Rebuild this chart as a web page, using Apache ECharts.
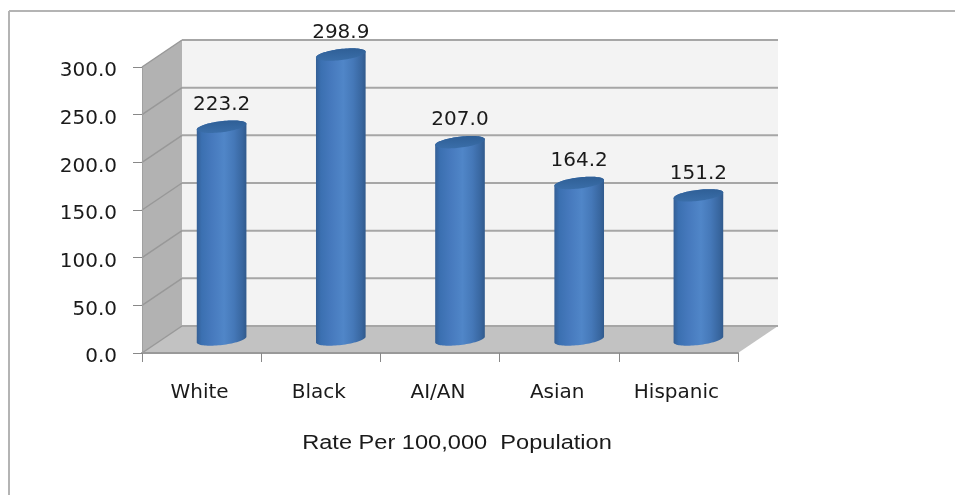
<!DOCTYPE html>
<html>
<head>
<meta charset="utf-8">
<style>html,body{margin:0;padding:0;background:#fff}#chart{width:955px;height:495px}</style>
<script src="https://cdn.jsdelivr.net/npm/echarts@6/dist/echarts.min.js"></script>
</head>
<body>
<div id="chart"></div>
<script>
// Rates per 100,000 population by group
const groups = ['White', 'Black', 'AI/AN', 'Asian', 'Hispanic'];
const rates = [223.2, 298.9, 207.0, 164.2, 151.2];
const yTicks = [0, 50, 100, 150, 200, 250, 300];
const axisTitle = 'Rate Per 100,000  Population';

// Oblique projection of the chart box: how far the back wall sits from the front plane
const DEPTH_X = 40;
const DEPTH_Y = -27;
const TEXT_FONT = '"DejaVu Sans", sans-serif';
const TEXT_COLOR = '#1a1a1a';
const RULE_COLOR = '#a6a6a6';

function renderBox(params, api) {
  const rect = params.coordSys;
  const x0 = rect.x, x1 = rect.x + rect.width;
  const y0 = api.coord([0, 0])[1];
  const yTop = api.coord([0, yTicks[yTicks.length - 1]])[1];
  const children = [
    { type: 'polygon', shape: { points: [[x0, y0], [x0 + DEPTH_X, y0 + DEPTH_Y], [x0 + DEPTH_X, yTop + DEPTH_Y], [x0, yTop]] }, style: { fill: '#b2b2b2' } },
    { type: 'polygon', shape: { points: [[x0 + DEPTH_X, y0 + DEPTH_Y], [x1 + DEPTH_X, y0 + DEPTH_Y], [x1 + DEPTH_X, yTop + DEPTH_Y], [x0 + DEPTH_X, yTop + DEPTH_Y]] }, style: { fill: '#f3f3f3' } },
    { type: 'polygon', shape: { points: [[x0, y0], [x1, y0], [x1 + DEPTH_X, y0 + DEPTH_Y], [x0 + DEPTH_X, y0 + DEPTH_Y]] }, style: { fill: '#c2c2c2' } }
  ];
  yTicks.forEach(function (t) {
    const y = api.coord([0, t])[1];
    const bx = x0 + DEPTH_X, by = y + DEPTH_Y;
    children.push({ type: 'line', shape: { x1: x0, y1: y, x2: bx, y2: by }, style: { stroke: '#989898', lineWidth: 1.5 } });
    children.push({ type: 'line', shape: { x1: bx, y1: by, x2: x1 + DEPTH_X, y2: by }, style: { stroke: RULE_COLOR, lineWidth: 2 } });
  });
  return { type: 'group', children: children };
}

// Point on a slightly tilted ellipse
function ellipsePoint(cx, cy, rx, ry, tilt, t) {
  const c = Math.cos(t), s = Math.sin(t);
  return [
    cx + rx * c * Math.cos(tilt) - ry * s * Math.sin(tilt),
    cy + rx * c * Math.sin(tilt) + ry * s * Math.cos(tilt)
  ];
}

function renderCylinder(params, api) {
  const idx = api.value(0);
  const val = api.value(1);
  const base = api.coord([idx, 0]);
  const top = api.coord([idx, val]);
  const cx = base[0] + DEPTH_X / 2;
  const yBase = base[1] + DEPTH_Y / 2;
  const yTop = top[1] + DEPTH_Y / 2;
  const rx = 25, ry = 5.5, tilt = -0.12;
  const STEPS = 40;
  const body = [];
  // upper rim, left to right across the back of the lid
  for (let i = 0; i <= STEPS; i++) {
    body.push(ellipsePoint(cx, yTop, rx, ry, tilt, Math.PI + Math.PI * i / STEPS));
  }
  // lower rim, right to left across the front of the base
  for (let i = 0; i <= STEPS; i++) {
    body.push(ellipsePoint(cx, yBase, rx, ry, tilt, Math.PI * i / STEPS));
  }
  const lid = [];
  for (let i = 0; i < STEPS * 2; i++) {
    lid.push(ellipsePoint(cx, yTop, rx, ry, tilt, Math.PI * i / STEPS));
  }
  return {
    type: 'group',
    children: [
      {
        type: 'polygon', shape: { points: body },
        style: {
          fill: {
            type: 'linear', x: 0, y: 0, x2: 1, y2: 0,
            colorStops: [
              { offset: 0, color: '#345f95' },
              { offset: 0.1, color: '#3b70b1' },
              { offset: 0.3, color: '#4679bd' },
              { offset: 0.55, color: '#5086c8' },
              { offset: 0.75, color: '#4578b8' },
              { offset: 0.92, color: '#38669f' },
              { offset: 1, color: '#315a8c' }
            ]
          }
        }
      },
      {
        type: 'polygon', shape: { points: lid },
        style: {
          fill: {
            type: 'linear', x: 0, y: 0, x2: 0, y2: 1,
            colorStops: [
              { offset: 0, color: '#2f5f96' },
              { offset: 1, color: '#3a6ea9' }
            ]
          }
        }
      },
      {
        type: 'text',
        style: {
          x: cx, y: yTop - 22,
          text: val.toFixed(1),
          fill: TEXT_COLOR, font: '20px ' + TEXT_FONT,
          align: 'center', verticalAlign: 'middle'
        }
      }
    ]
  };
}

const chart = echarts.init(document.getElementById('chart'), null, { renderer: 'canvas' });
chart.setOption({
  animation: false,
  backgroundColor: '#fff',
  grid: { left: 142, right: 217, top: 67, bottom: 142 },
  xAxis: {
    type: 'category', data: groups, z: 5,
    axisLine: { lineStyle: { color: '#999', width: 2 } },
    axisTick: { show: true, length: 9, lineStyle: { color: '#888' } },
    axisLabel: { color: TEXT_COLOR, fontFamily: '"DejaVu Sans", sans-serif', fontSize: 20, margin: 30, padding: [0, 4, 0, 0] }
  },
  yAxis: {
    type: 'value', min: 0, max: 300, interval: 50, z: 5,
    axisLine: { show: true, lineStyle: { color: '#a0a0a0', width: 1 } },
    axisTick: { show: true, length: 9, lineStyle: { color: '#888' } },
    splitLine: { show: false },
    axisLabel: { color: TEXT_COLOR, fontFamily: '"DejaVu Sans", sans-serif', fontSize: 20, margin: 25, verticalAlign: 'top', lineHeight: 8, formatter: function (v) { return v.toFixed(1); } }
  },
  series: [
    { type: 'custom', name: 'box', data: [[0, 0]], encode: { x: 0, y: 1 }, clip: false, silent: true, z: 1, renderItem: renderBox },
    { type: 'custom', name: 'Rate', data: rates.map(function (r, i) { return [i, r]; }), encode: { x: 0, y: 1 }, clip: false, z: 6, renderItem: renderCylinder }
  ],
  graphic: [
    { type: 'line', silent: true, shape: { x1: 9, y1: 11, x2: 955, y2: 11 }, style: { stroke: '#b4b4b4', lineWidth: 2 } },
    { type: 'line', silent: true, shape: { x1: 9, y1: 11, x2: 9, y2: 495 }, style: { stroke: '#b4b4b4', lineWidth: 2 } },
    {
      type: 'text', silent: true, x: 457, y: 443, scaleX: 1.18,
      style: { text: axisTitle, font: '20px "Liberation Sans", Arial, sans-serif', fill: TEXT_COLOR, align: 'center', verticalAlign: 'middle' }
    }
  ]
});
</script>
</body>
</html>
